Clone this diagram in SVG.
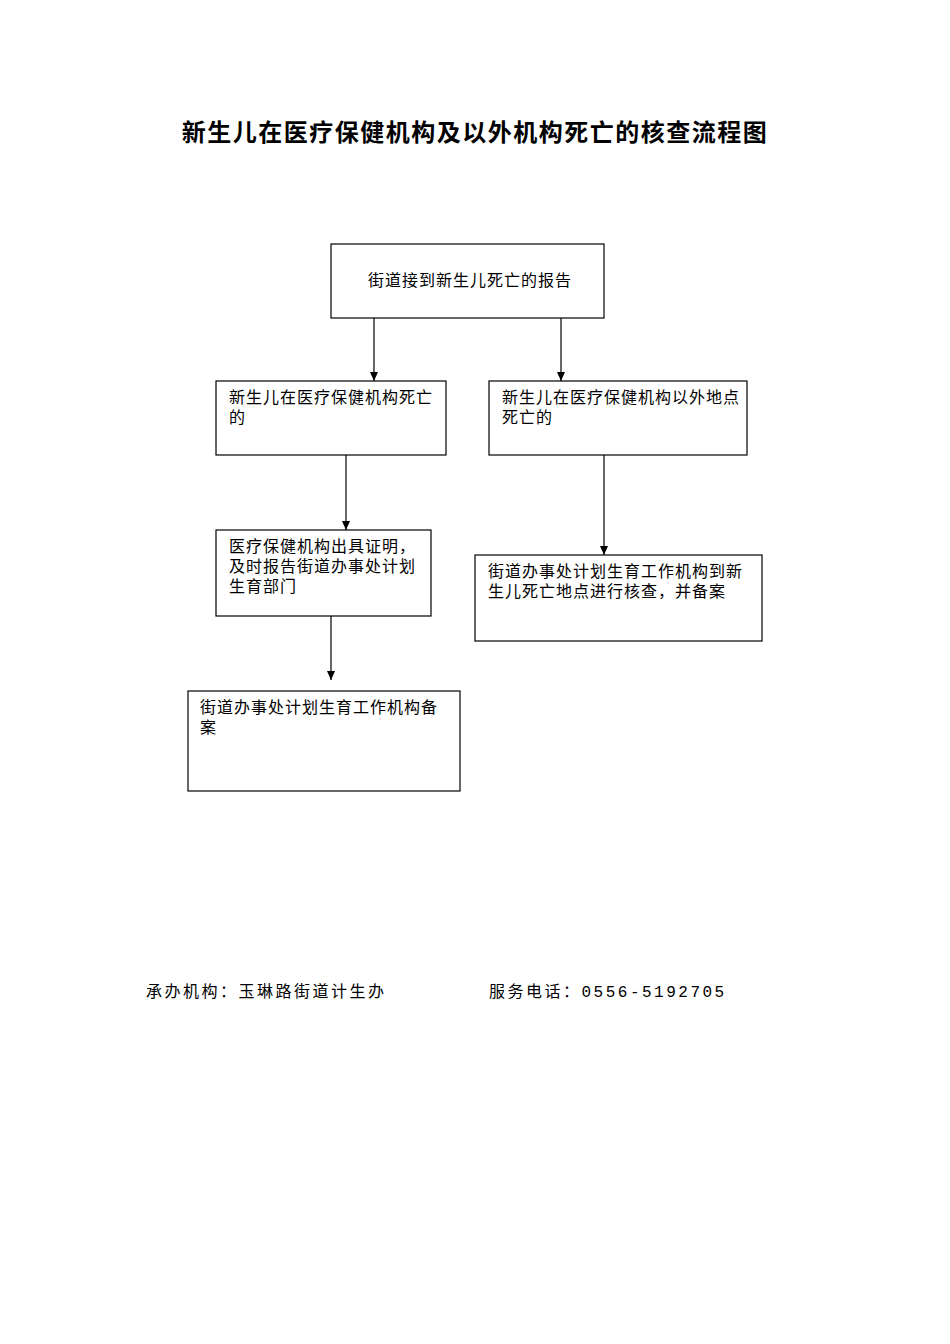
<svg xmlns="http://www.w3.org/2000/svg" width="950" height="1344" viewBox="0 0 950 1344">
<style>
.b{fill:#fff;stroke:#000;stroke-width:1.2}
.t{font-family:"Liberation Serif","Noto Sans CJK SC",serif;font-size:16px;fill:#000;letter-spacing:1px}
.f{font-family:"Liberation Mono","Noto Sans CJK SC",monospace;font-size:16px;fill:#000;letter-spacing:2.5px}
.c{stroke:#000;stroke-width:1.2;fill:none;marker-end:url(#a)}
</style>
<defs><marker id="a" markerWidth="10" markerHeight="10" refX="9" refY="5" orient="auto" markerUnits="userSpaceOnUse"><path d="M0,1 L9,5 L0,9 Z" fill="#000"/></marker></defs>
<rect width="950" height="1344" fill="#fff"/>
<text x="475" y="141" text-anchor="middle" font-family="'Liberation Serif','Noto Sans CJK SC',serif" font-size="24" font-weight="bold" letter-spacing="1.5">新生儿在医疗保健机构及以外机构死亡的核查流程图</text>
<g id="connectors">
<line class="c" x1="374" y1="318" x2="374" y2="381"/>
<line class="c" x1="561" y1="318" x2="561" y2="381"/>
<line class="c" x1="346" y1="455" x2="346" y2="530"/>
<line class="c" x1="604" y1="455" x2="604" y2="555"/>
<line class="c" x1="331" y1="616" x2="331" y2="680"/>
</g>
<g id="n1"><rect class="b" x="331" y="244" width="273" height="74"/><text class="t" x="368" y="286">街道接到新生儿死亡的报告</text></g>
<g id="n2"><rect class="b" x="216" y="381" width="230" height="74"/><text class="t" x="229" y="403">新生儿在医疗保健机构死亡</text><text class="t" x="229" y="423">的</text></g>
<g id="n3"><rect class="b" x="489" y="381" width="258" height="74"/><text class="t" x="502" y="403">新生儿在医疗保健机构以外地点</text><text class="t" x="502" y="423">死亡的</text></g>
<g id="n4"><rect class="b" x="216" y="530" width="215" height="86"/><text class="t" x="229" y="552">医疗保健机构出具证明，</text><text class="t" x="229" y="572">及时报告街道办事处计划</text><text class="t" x="229" y="592">生育部门</text></g>
<g id="n5"><rect class="b" x="475" y="555" width="287" height="86"/><text class="t" x="488" y="577">街道办事处计划生育工作机构到新</text><text class="t" x="488" y="597">生儿死亡地点进行核查，并备案</text></g>
<g id="n6"><rect class="b" x="188" y="691" width="272" height="100"/><text class="t" x="200" y="713">街道办事处计划生育工作机构备</text><text class="t" x="200" y="733">案</text></g>
<text class="f" x="146" y="997">承办机构：玉琳路街道计生办</text>
<text class="f" x="489" y="997">服务电话：0556-5192705</text>
</svg>
